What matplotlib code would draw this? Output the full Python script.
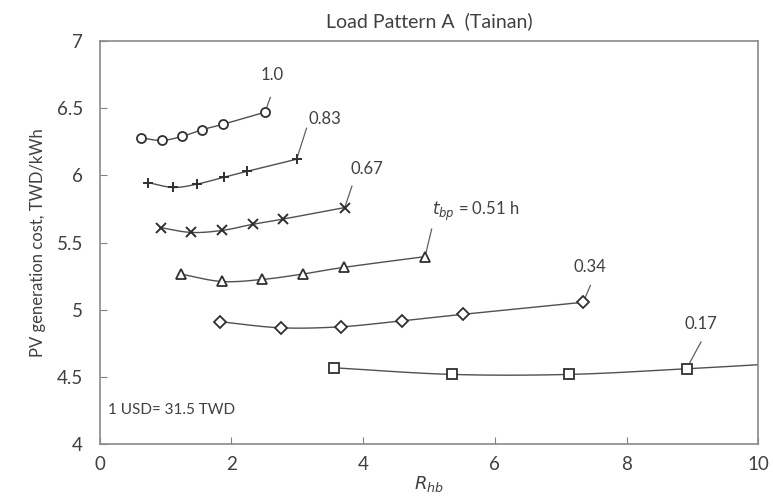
import numpy as np
import matplotlib.pyplot as plt

plt.rcParams['font.family'] = ['Lato', 'DejaVu Sans']

# R_hb and PV generation cost (TWD/kWh) for each battery time t_bp
r_100 = [0.62, 0.94, 1.25, 1.56, 1.87, 2.51]
c_100 = [6.28, 6.26, 6.29, 6.34, 6.38, 6.47]
r_083 = [0.74, 1.12, 1.48, 1.88, 2.24, 2.99]
c_083 = [5.945, 5.91, 5.935, 5.985, 6.03, 6.12]
r_067 = [0.93, 1.39, 1.86, 2.32, 2.79, 3.72]
c_067 = [5.61, 5.575, 5.59, 5.635, 5.675, 5.76]
r_051 = [1.23, 1.85, 2.47, 3.08, 3.71, 4.94]
c_051 = [5.265, 5.21, 5.225, 5.265, 5.315, 5.395]
r_034 = [1.83, 2.75, 3.67, 4.59, 5.51, 7.34]
c_034 = [4.91, 4.865, 4.873, 4.917, 4.965, 5.055]
r_017 = [3.56, 5.35, 7.13, 8.91, 10.7]
c_017 = [4.567, 4.518, 4.518, 4.56, 4.61]

labels = ['1.0', '0.83', '0.67', r'$t_{bp}$ = 0.51 h', '0.34', '0.17']
markers = ['o', '+', 'x', '^', 'D', 's']
label_pos = [(2.62, 6.75), (3.42, 6.42), (4.05, 6.05), (5.04, 5.73), (7.45, 5.32), (9.13, 4.89)]
label_end = [(2.59, 6.58), (3.14, 6.35), (3.83, 5.92), (5.04, 5.6), (7.45, 5.18), (9.13, 4.76)]


def smooth(x, y, n=20):
    # Catmull-Rom spline, close to Excel's smoothed line
    x = np.asarray(x, float)
    y = np.asarray(y, float)
    px = np.concatenate([[2 * x[0] - x[1]], x, [2 * x[-1] - x[-2]]])
    py = np.concatenate([[2 * y[0] - y[1]], y, [2 * y[-1] - y[-2]]])
    xs, ys = [], []
    t = np.linspace(0, 1, n)
    for i in range(1, len(px) - 2):
        for p, out in ((px, xs), (py, ys)):
            p0, p1, p2, p3 = p[i - 1], p[i], p[i + 1], p[i + 2]
            out.extend(0.5 * (2 * p1 + (-p0 + p2) * t + (2 * p0 - 5 * p1 + 4 * p2 - p3) * t ** 2
                              + (-p0 + 3 * p1 - 3 * p2 + p3) * t ** 3))
    return xs, ys


series = [(r_100, c_100), (r_083, c_083), (r_067, c_067),
          (r_051, c_051), (r_034, c_034), (r_017, c_017)]

fig = plt.figure(figsize=(7.73, 5.0), dpi=100)
ax = fig.add_axes([0.129, 0.112, 0.852, 0.806])

for (r, c), m, lab, lp, le in zip(series, markers, labels, label_pos, label_end):
    sx, sy = smooth(r, c)
    ax.plot(sx, sy, color='#505050', lw=1.0, zorder=2)
    if m in ('+', 'x'):
        ax.plot(r, c, ls='none', marker=m, ms=7, mew=1.4, color='#303030', zorder=3)
    else:
        ms = {'o': 6.5, '^': 6.5, 'D': 6, 's': 6.5}[m]
        ax.plot(r, c, ls='none', marker=m, ms=ms, mew=1.3, mfc='white', mec='#303030', zorder=3)
    k = -2 if lab == '0.17' else -1
    ax.plot([r[k], le[0]], [c[k], le[1]], color='#606060', lw=0.9, zorder=1)
    ha = 'left' if lab.startswith('$') else 'center'
    ax.text(lp[0], lp[1], lab, ha=ha, va='center', fontsize=12, color='#404040')

ax.text(0.12, 4.25, '1 USD= 31.5 TWD', ha='left', va='center', fontsize=11, color='#404040')

ax.set_xlim(0, 10)
ax.set_ylim(4, 7)
ax.set_xticks([0, 2, 4, 6, 8, 10])
ax.set_yticks([4, 4.5, 5, 5.5, 6, 6.5, 7])
ax.set_yticklabels(['4', '4.5', '5', '5.5', '6', '6.5', '7'])
ax.tick_params(direction='in', length=5, color='#808080', labelsize=13.5, labelcolor='#404040')
ax.tick_params(axis='y', pad=12)
ax.tick_params(axis='x', pad=9)
for s in ax.spines.values():
    s.set_color('#8a8a8a')
    s.set_linewidth(1.2)

ax.set_title('Load Pattern A  (Tainan)', fontsize=14, color='#404040', pad=10)
ax.set_xlabel(r'$R_{hb}$', fontsize=13, color='#404040', labelpad=0)
ax.set_ylabel('PV generation cost, TWD/kWh', fontsize=12, color='#404040', labelpad=8)

fig.savefig('out.png', dpi=100)
